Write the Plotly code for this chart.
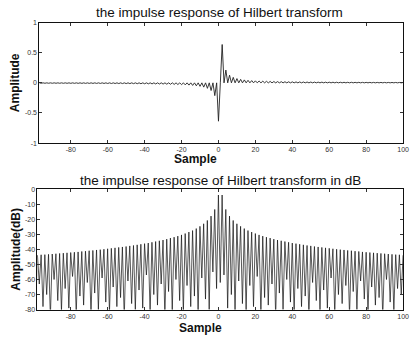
import plotly.graph_objects as go

samples = list(range(-100, 101))

amplitude = [
    -0.0063, 0, -0.0064, 0, -0.0066, 0, -0.0067, 0, -0.0068, 0, -0.0070, 0, -0.0072, 0, -0.0073, 0, -0.0075, 0, -0.0077, 0,
    -0.0079, 0, -0.0081, 0, -0.0083, 0, -0.0085, 0, -0.0087, 0, -0.0090, 0, -0.0092, 0, -0.0095, 0, -0.0098, 0, -0.0101, 0,
    -0.0104, 0, -0.0108, 0, -0.0112, 0, -0.0116, 0, -0.0120, 0, -0.0125, 0, -0.0130, 0, -0.0135, 0, -0.0141, 0, -0.0148, 0,
    -0.0155, 0, -0.0163, 0, -0.0172, 0, -0.0182, 0, -0.0193, 0, -0.0205, 0, -0.0220, 0, -0.0236, 0, -0.0255, 0, -0.0277, 0,
    -0.0303, 0, -0.0335, 0, -0.0374, 0, -0.0424, 0, -0.0490, 0, -0.0579, 0, -0.0707, 0, -0.0909, 0, -0.1273, 0, -0.2122, 0,
    -0.6366,
    0, 0.6366, 0, 0.2122, 0, 0.1273, 0, 0.0909, 0, 0.0707, 0, 0.0579, 0, 0.0490, 0, 0.0424, 0, 0.0374, 0, 0.0335,
    0, 0.0303, 0, 0.0277, 0, 0.0255, 0, 0.0236, 0, 0.0220, 0, 0.0205, 0, 0.0193, 0, 0.0182, 0, 0.0172, 0, 0.0163,
    0, 0.0155, 0, 0.0148, 0, 0.0141, 0, 0.0135, 0, 0.0130, 0, 0.0125, 0, 0.0120, 0, 0.0116, 0, 0.0112, 0, 0.0108,
    0, 0.0104, 0, 0.0101, 0, 0.0098, 0, 0.0095, 0, 0.0092, 0, 0.0090, 0, 0.0087, 0, 0.0085, 0, 0.0083, 0, 0.0081,
    0, 0.0079, 0, 0.0077, 0, 0.0075, 0, 0.0073, 0, 0.0072, 0, 0.0070, 0, 0.0068, 0, 0.0067, 0, 0.0066, 0, 0.0064,
]

amplitude_db = [
    -44.0, -82, -43.9, -63, -43.6, -78, -43.5, -70, -43.3, -85, -43.1, -60, -42.9, -74, -42.7, -81, -42.5, -66, -42.3, -79,
    -42.1, -58, -41.9, -83, -41.7, -71, -41.4, -77, -41.2, -62, -40.9, -84, -40.7, -69, -40.4, -80, -40.2, -59, -39.9, -75,
    -39.6, -82, -39.3, -65, -39.0, -78, -38.7, -72, -38.4, -86, -38.1, -61, -37.7, -76, -37.4, -80, -37.0, -67, -36.6, -79,
    -36.2, -57, -35.8, -83, -35.3, -70, -34.8, -77, -34.3, -63, -33.8, -85, -33.2, -68, -32.5, -81, -31.9, -60, -31.2, -74,
    -30.4, -82, -29.5, -64, -28.5, -78, -27.5, -71, -26.2, -84, -24.7, -59, -23.0, -73, -20.8, -80, -17.9, -55, -13.5, -66,
    -3.9,
    -62, -3.9, -57, -13.5, -79, -17.9, -70, -20.8, -83, -23.0, -61, -24.7, -76, -26.2, -81, -27.5, -64, -28.5, -78, -29.5,
    -58, -30.4, -84, -31.2, -72, -31.9, -77, -32.5, -63, -33.2, -85, -33.8, -69, -34.3, -80, -34.8, -60, -35.3, -75, -35.8,
    -82, -36.2, -66, -36.6, -78, -37.0, -71, -37.4, -86, -37.7, -62, -38.1, -74, -38.4, -81, -38.7, -67, -39.0, -79, -39.3,
    -59, -39.6, -83, -39.9, -70, -40.2, -76, -40.4, -64, -40.7, -84, -40.9, -68, -41.2, -80, -41.4, -61, -41.7, -73, -41.9,
    -82, -42.1, -65, -42.3, -77, -42.5, -72, -42.7, -85, -42.9, -60, -43.1, -75, -43.3, -81, -43.5, -66, -43.6, -70, -43.9,
]

x_ticks = [-80, -60, -40, -20, 0, 20, 40, 60, 80, 100]
y1_ticks = [-1, -0.5, 0, 0.5, 1]
y1_labels = ["-1", "-0.5", "0", "0.5", "1"]
y2_ticks = [-80, -70, -60, -50, -40, -30, -20, -10, 0]

W, H = 415, 342
FONT = "Liberation Sans"

def px(x):
    return x / W

def py(y):
    return 1 - y / H

fig = go.Figure()
fig.add_trace(go.Scatter(x=samples, y=amplitude, mode="lines",
                         line=dict(color="#222", width=0.9), xaxis="x", yaxis="y", showlegend=False))
fig.add_trace(go.Scatter(x=samples, y=amplitude_db, mode="lines",
                         line=dict(color="#111", width=0.7), xaxis="x2", yaxis="y2", showlegend=False))

axis_common = dict(showgrid=False, zeroline=False, showline=True, linecolor="#111", linewidth=1,
                   mirror="ticks", ticks="inside", ticklen=3, tickcolor="#333",
                   tickfont=dict(family=FONT, size=7, color="#333"))

fig.update_layout(
    width=W, height=H,
    margin=dict(l=0, r=0, t=0, b=0),
    paper_bgcolor="white", plot_bgcolor="white",
    xaxis=dict(domain=[px(40), px(409)], range=[-97, 100], anchor="y",
               tickvals=x_ticks, ticktext=[str(v) for v in x_ticks], **axis_common),
    yaxis=dict(domain=[py(142), py(19)], range=[-1, 1], anchor="x",
               tickvals=y1_ticks, ticktext=y1_labels, **axis_common),
    xaxis2=dict(domain=[px(38), px(409)], range=[-98, 100], anchor="y2",
                tickvals=x_ticks, ticktext=[str(v) for v in x_ticks], **axis_common),
    yaxis2=dict(domain=[py(312), py(189)], range=[-80, 0], anchor="x2",
                tickvals=y2_ticks, ticktext=[str(v) for v in y2_ticks], **axis_common),
    annotations=[
        dict(text="the impulse response of Hilbert transform", x=px(223), y=py(9), xref="paper", yref="paper",
             showarrow=False, font=dict(family=FONT, size=13.5, color="#111"), xanchor="center", yanchor="middle"),
        dict(text="the impulse response of Hilbert transform in dB", x=px(224), y=py(180), xref="paper", yref="paper",
             showarrow=False, font=dict(family=FONT, size=13.5, color="#111"), xanchor="center", yanchor="middle"),
        dict(text="<b>Amplitude</b>", x=px(16), y=py(80), xref="paper", yref="paper", textangle=-90,
             showarrow=False, font=dict(family=FONT, size=12, color="#111"), xanchor="center", yanchor="middle"),
        dict(text="<b>Amplitude(dB)</b>", x=px(16), y=py(250), xref="paper", yref="paper", textangle=-90,
             showarrow=False, font=dict(family=FONT, size=12, color="#111"), xanchor="center", yanchor="middle"),
        dict(text="<b>Sample</b>", x=px(198), y=py(158), xref="paper", yref="paper",
             showarrow=False, font=dict(family=FONT, size=12, color="#111"), xanchor="center", yanchor="middle"),
        dict(text="<b>Sample</b>", x=px(203), y=py(331), xref="paper", yref="paper",
             showarrow=False, font=dict(family=FONT, size=12, color="#111"), xanchor="center", yanchor="middle"),
    ],
)

fig.write_html("out.html")
